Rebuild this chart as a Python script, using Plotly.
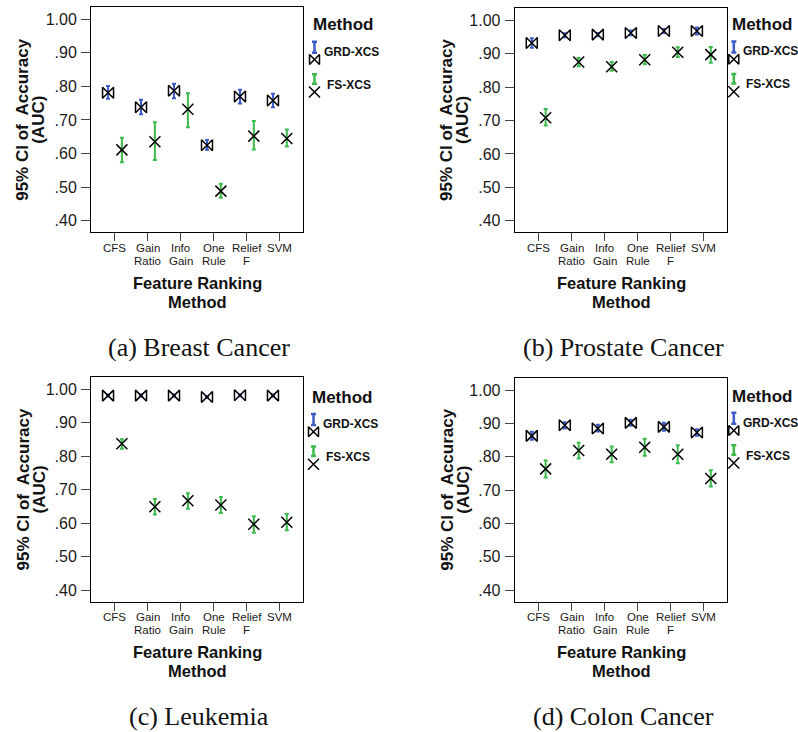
import plotly.graph_objects as go

# ---------------- data ----------------
categories = ["CFS", "Gain<br>Ratio", "Info<br>Gain", "One<br>Rule", "Relief<br>F", "SVM"]
y_tick_vals = [1.0, 0.9, 0.8, 0.7, 0.6, 0.5, 0.4]
y_tick_text = ["1.00", ".90", ".80", ".70", ".60", ".50", ".40"]
series_names = ["GRD-XCS", "FS-XCS"]
panel_captions = ["(a) Breast Cancer", "(b) Prostate Cancer", "(c) Leukemia", "(d) Colon Cancer"]

breast_grd_mean = [0.781, 0.738, 0.787, 0.625, 0.770, 0.758]
breast_grd_hi = [0.801, 0.760, 0.808, 0.640, 0.790, 0.778]
breast_grd_lo = [0.763, 0.717, 0.765, 0.611, 0.749, 0.738]
breast_fs_mean = [0.611, 0.635, 0.732, 0.488, 0.652, 0.645]
breast_fs_hi = [0.647, 0.693, 0.780, 0.510, 0.697, 0.672]
breast_fs_lo = [0.574, 0.581, 0.678, 0.468, 0.612, 0.621]

prostate_grd_mean = [0.932, 0.955, 0.957, 0.962, 0.968, 0.968]
prostate_grd_hi = [0.946, 0.961, 0.962, 0.969, 0.974, 0.978]
prostate_grd_lo = [0.918, 0.949, 0.952, 0.955, 0.962, 0.957]
prostate_fs_mean = [0.708, 0.875, 0.861, 0.882, 0.904, 0.897]
prostate_fs_hi = [0.734, 0.887, 0.875, 0.896, 0.919, 0.920]
prostate_fs_lo = [0.685, 0.862, 0.849, 0.868, 0.890, 0.873]

leukemia_grd_mean = [0.981, 0.981, 0.981, 0.977, 0.982, 0.981]
leukemia_grd_hi = [0.984, 0.984, 0.984, 0.980, 0.985, 0.984]
leukemia_grd_lo = [0.978, 0.978, 0.978, 0.974, 0.979, 0.978]
leukemia_fs_mean = [0.837, 0.649, 0.667, 0.654, 0.597, 0.603]
leukemia_fs_hi = [0.851, 0.672, 0.689, 0.678, 0.621, 0.627]
leukemia_fs_lo = [0.822, 0.626, 0.643, 0.630, 0.571, 0.579]

colon_grd_mean = [0.863, 0.895, 0.885, 0.902, 0.890, 0.873]
colon_grd_hi = [0.875, 0.904, 0.896, 0.911, 0.902, 0.883]
colon_grd_lo = [0.851, 0.885, 0.876, 0.893, 0.878, 0.863]
colon_fs_mean = [0.764, 0.819, 0.808, 0.829, 0.808, 0.735]
colon_fs_hi = [0.789, 0.842, 0.831, 0.854, 0.835, 0.760]
colon_fs_lo = [0.738, 0.795, 0.784, 0.803, 0.781, 0.711]

panels = [
    (breast_grd_mean, breast_grd_hi, breast_grd_lo, breast_fs_mean, breast_fs_hi, breast_fs_lo),
    (prostate_grd_mean, prostate_grd_hi, prostate_grd_lo, prostate_fs_mean, prostate_fs_hi, prostate_fs_lo),
    (leukemia_grd_mean, leukemia_grd_hi, leukemia_grd_lo, leukemia_fs_mean, leukemia_fs_hi, leukemia_fs_lo),
    (colon_grd_mean, colon_grd_hi, colon_grd_lo, colon_fs_mean, colon_fs_hi, colon_fs_lo),
]

# ---------------- styling / layout ----------------
W, H = 798, 732
SANS = "Liberation Sans, Arial, sans-serif"
SERIF = "Liberation Serif, Times New Roman, serif"
BLUE = "#3d5cc6"
GREEN = "#3dba4c"
OFFSET = 0.21

# plot boxes in pixels: (left, right, top, bottom)
boxes = [(91, 303.3, 7.3, 232.3), (514.7, 727.3, 8.3, 232.3),
         (91, 303.3, 377.3, 601.7), (514.7, 727.3, 378.3, 601.7)]
legend_centers = [(342.7, 25), (762.0, 24.7), (341.7, 397.3), (762.0, 396)]
caption_pos = [(198.5, 347.5), (623, 347.5), (198.5, 716.5), (623, 716.5)]

fig = go.Figure()
layout = dict(width=W, height=H, margin=dict(l=0, r=0, t=0, b=0),
              paper_bgcolor="white", plot_bgcolor="rgba(0,0,0,0)",
              showlegend=False, font=dict(family=SANS, color="#1a1a1a"))
annotations = []

for p, (gm, gh, gl, fm, fh, fl) in enumerate(panels):
    i = p + 1
    xa = "x" if i == 1 else f"x{i}"
    ya = "y" if i == 1 else f"y{i}"
    L, R, T, B = boxes[p]
    xs = list(range(len(categories)))
    fig.add_trace(go.Scatter(
        x=[v - OFFSET for v in xs], y=gm, xaxis=xa, yaxis=ya, mode="markers",
        name=series_names[0],
        marker=dict(symbol="bowtie-open", size=11, color="black", line=dict(width=1.5, color="black")),
        error_y=dict(type="data", symmetric=False,
                     array=[h - m for h, m in zip(gh, gm)],
                     arrayminus=[m - l for m, l in zip(gm, gl)],
                     color=BLUE, thickness=2, width=2),
        cliponaxis=False))
    fig.add_trace(go.Scatter(
        x=[v + OFFSET for v in xs], y=fm, xaxis=xa, yaxis=ya, mode="markers",
        name=series_names[1],
        marker=dict(symbol="x-thin-open", size=11, color="black", line=dict(width=1.5, color="black")),
        error_y=dict(type="data", symmetric=False,
                     array=[h - m for h, m in zip(fh, fm)],
                     arrayminus=[m - l for m, l in zip(fm, fl)],
                     color=GREEN, thickness=2, width=2),
        cliponaxis=False))

    xkey = "xaxis" if i == 1 else f"xaxis{i}"
    ykey = "yaxis" if i == 1 else f"yaxis{i}"
    layout[xkey] = dict(domain=[L / W, R / W], anchor=ya, range=[-0.727, 5.71],
                        tickmode="array", tickvals=xs, ticktext=categories,
                        showticklabels=False,
                        ticks="outside", ticklen=8, tickcolor="#444", tickwidth=1,
                        showline=True, linecolor="black", linewidth=1, mirror=True,
                        showgrid=False, zeroline=False)
    layout[ykey] = dict(domain=[1 - B / H, 1 - T / H], anchor=xa, range=[0.3654, 1.0357],
                        tickmode="array", tickvals=y_tick_vals, ticktext=y_tick_text,
                        ticks="outside", ticklen=9, tickcolor="#444", tickwidth=1,
                        ticklabelstandoff=1,
                        showline=True, linecolor="black", linewidth=1, mirror=True,
                        showgrid=False, zeroline=False,
                        tickfont=dict(family=SANS, size=16, color="#1a1a1a"))

    # category tick labels with tight line spacing (placed on the x axis coordinates)
    for k, cat in enumerate(categories):
        for li, line in enumerate(cat.split("<br>")):
            annotations.append(dict(x=k, xref=xa, y=1 - (B + 15.5 + 13.0 * li) / H, yref="paper",
                                    text=line, showarrow=False, xanchor="center", yanchor="middle",
                                    borderpad=0,
                                    font=dict(family=SANS, size=11.5, color="#1a1a1a")))

    # axis titles (two tight lines each)
    cy = 1 - ((T + B) / 2) / H
    for dx, txt in [(-68.0, "95% CI of  Accuracy"), (-52.0, "(AUC)")]:
        annotations.append(dict(x=(L + dx) / W, y=cy, xref="paper", yref="paper",
                                text=f"<b>{txt}</b>", textangle=-90, showarrow=False,
                                xanchor="center", yanchor="middle", borderpad=0,
                                font=dict(family=SANS, size=17, color="#111")))
    cx = ((L + R) / 2) / W
    for dy, txt in [(50.5, "Feature Ranking"), (69.3, "Method")]:
        annotations.append(dict(x=cx, y=1 - (B + dy) / H, xref="paper", yref="paper",
                                text=f"<b>{txt}</b>", showarrow=False,
                                xanchor="center", yanchor="middle", borderpad=0,
                                font=dict(family=SANS, size=16.5, color="#111")))
    # caption
    capx, capy = caption_pos[p]
    annotations.append(dict(x=capx / W, y=1 - capy / H, xref="paper", yref="paper",
                            text=panel_captions[p], showarrow=False,
                            xanchor="center", yanchor="middle",
                            font=dict(family=SERIF, size=26, color="#111")))

    # custom legend
    mx, my = legend_centers[p]
    annotations.append(dict(x=mx / W, y=1 - my / H, xref="paper", yref="paper",
                            text="<b>Method</b>", showarrow=False,
                            xanchor="center", yanchor="middle", borderpad=0,
                            font=dict(family=SANS, size=17, color="#111")))
    annotations.append(dict(x=(mx - 20) / W, y=1 - (my + 26.7) / H, xref="paper", yref="paper",
                            text=f"<b>{series_names[0]}</b>", showarrow=False,
                            xanchor="left", yanchor="middle", borderpad=0,
                            font=dict(family=SANS, size=12, color="#111")))
    annotations.append(dict(x=(mx - 17) / W, y=1 - (my + 59.5) / H, xref="paper", yref="paper",
                            text=f"<b>{series_names[1]}</b>", showarrow=False,
                            xanchor="left", yanchor="middle", borderpad=0,
                            font=dict(family=SANS, size=12, color="#111")))
    # legend glyphs on a hidden pixel canvas axis
    gx = mx - 28.2
    fig.add_trace(go.Scatter(x=[gx], y=[my + 22.2], xaxis="x9", yaxis="y9", mode="markers",
                             marker=dict(size=1, color="rgba(0,0,0,0)"),
                             error_y=dict(type="data", array=[5.5], color=BLUE, thickness=2.5, width=2.5),
                             cliponaxis=False, hoverinfo="skip"))
    fig.add_trace(go.Scatter(x=[gx], y=[my + 34.5], xaxis="x9", yaxis="y9", mode="markers",
                             marker=dict(symbol="bowtie-open", size=10, color="black",
                                         line=dict(width=1.5, color="black")),
                             cliponaxis=False, hoverinfo="skip"))
    fig.add_trace(go.Scatter(x=[gx], y=[my + 54.0], xaxis="x9", yaxis="y9", mode="markers",
                             marker=dict(size=1, color="rgba(0,0,0,0)"),
                             error_y=dict(type="data", array=[4.8], color=GREEN, thickness=2.5, width=2.5),
                             cliponaxis=False, hoverinfo="skip"))
    fig.add_trace(go.Scatter(x=[gx], y=[my + 67.0], xaxis="x9", yaxis="y9", mode="markers",
                             marker=dict(symbol="x-thin-open", size=11, color="black",
                                         line=dict(width=1.5, color="black")),
                             cliponaxis=False, hoverinfo="skip"))

layout["xaxis9"] = dict(domain=[0, 1], range=[0, W], visible=False, anchor="y9", fixedrange=True)
layout["yaxis9"] = dict(domain=[0, 1], range=[H, 0], visible=False, anchor="x9", fixedrange=True)
layout["annotations"] = annotations
fig.update_layout(**layout)
fig.write_html("out.html", config={"displayModeBar": False},
               post_script="document.body.style.margin='0';document.body.style.overflow='hidden';")
